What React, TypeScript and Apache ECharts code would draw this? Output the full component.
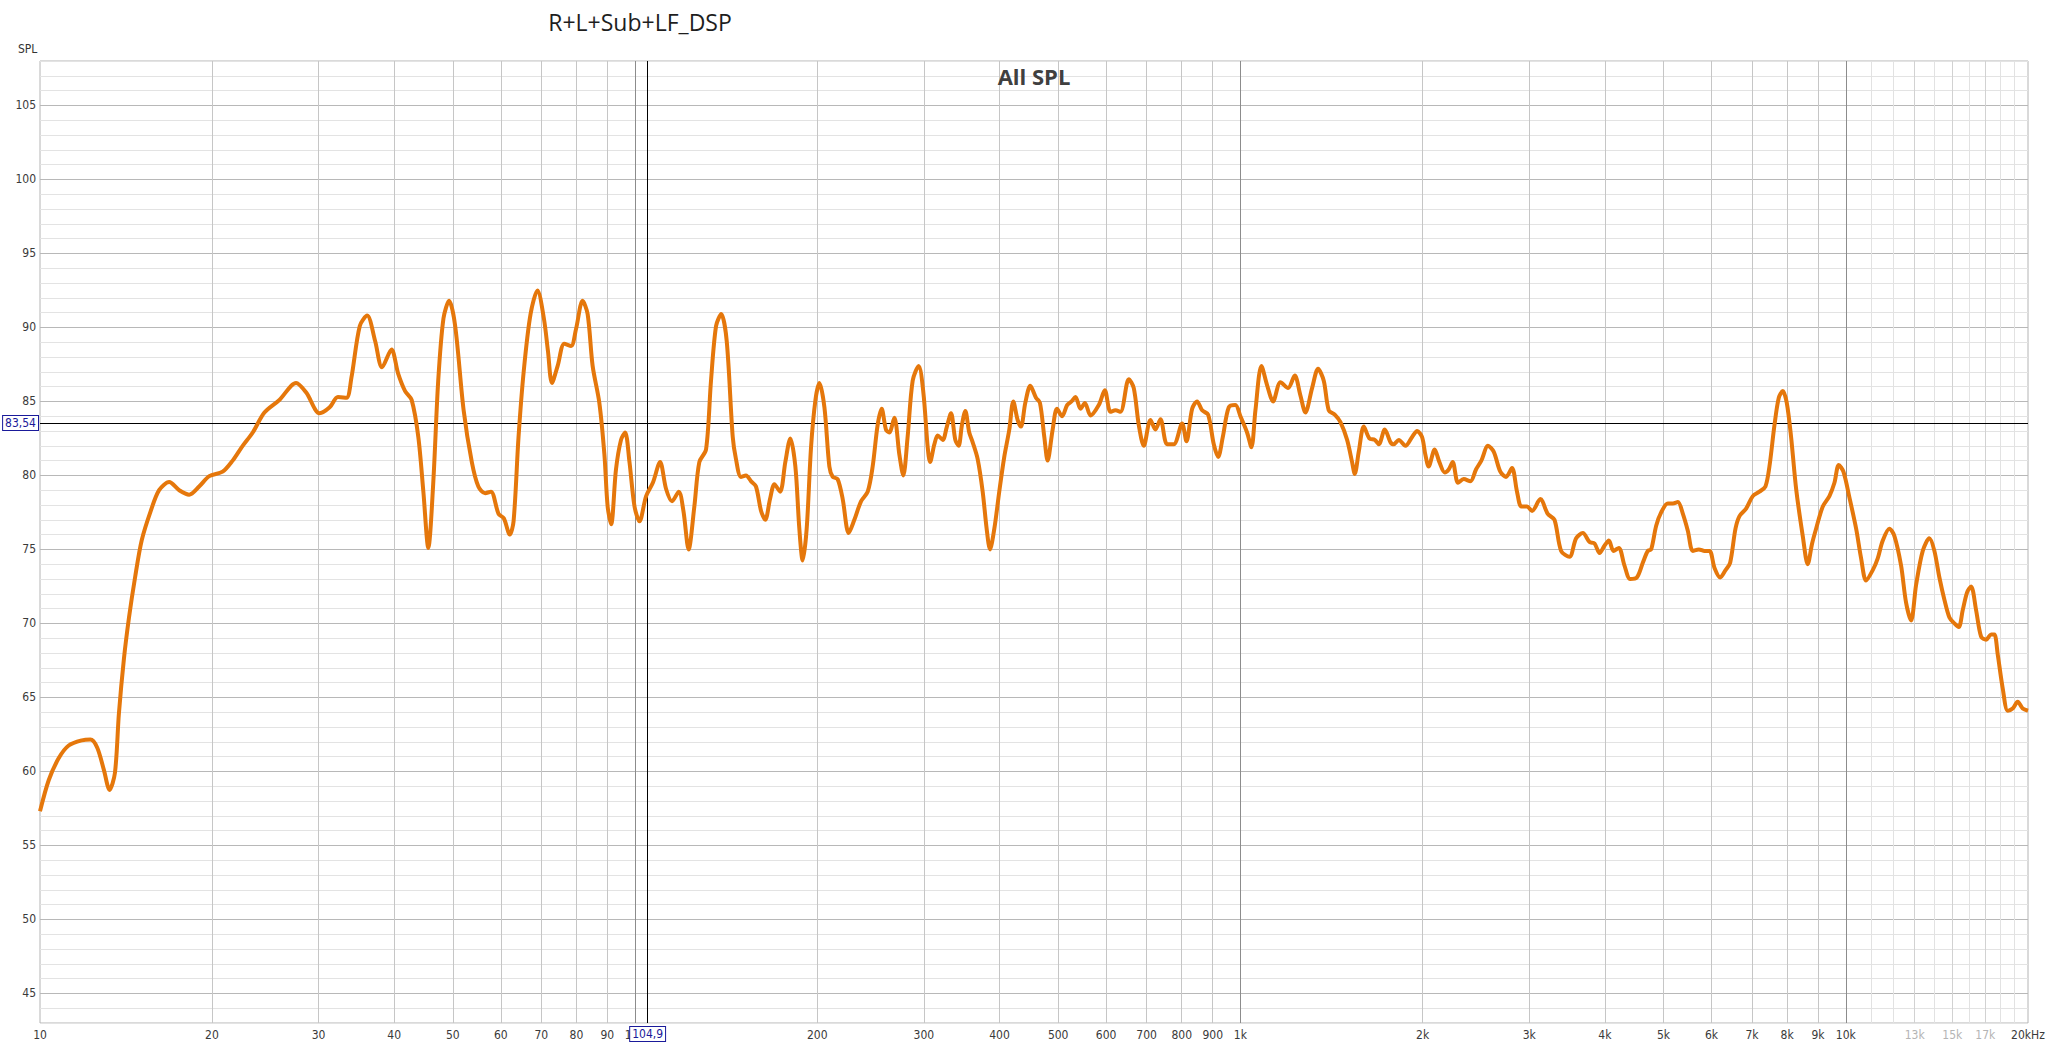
import React, { useEffect, useRef } from "react";
import * as echarts from "echarts";

// ---- Measured response (Hz, dB SPL) ----
const freqHz = [
  10.4, 10.75, 11.17, 11.6, 12.2, 12.6, 12.93, 13.26, 13.55, 13.83, 14.04, 14.31, 14.59, 14.93, 15.31, 15.85, 16.36, 17.0, 17.66, 18.34,
  19.05, 19.8, 20.83, 21.64, 22.48, 23.36, 24.42, 25.85, 27.55, 28.63, 30.12, 31.3, 32.3, 33.37, 34.0, 35.1, 36.1, 37.2, 38.2, 39.6,
  40.6, 41.7, 42.75, 43.85, 44.7, 45.55, 46.4, 47.3, 48.25, 49.3, 50.45, 52.1, 53.75, 55.1, 56.55, 57.8, 59.5, 60.7, 62.1, 63.0,
  64.2, 65.5, 67.2, 69.0, 70.7, 71.8, 72.9, 74.5, 76.4, 78.4, 79.9, 81.9, 83.5, 85.1, 87.3, 89.0, 90.1, 91.3, 93.0, 94.8,
  96.3, 97.9, 99.8, 101.7, 104.3, 107.0, 110.0, 112.5, 115.1, 118.1, 120.2, 122.6, 125.3, 127.7, 131.0, 133.5, 136.1, 138.8, 141.7, 145.0,
  146.8, 149.6, 152.5, 155.5, 158.4, 161.5, 164.1, 167.1, 169.9, 173.6, 177.1, 180.5, 184.0, 186.8, 189.2, 192.1, 195.3, 198.6, 201.6, 205.5,
  209.4, 212.1, 216.1, 220.3, 225.4, 230.3, 236.2, 242.3, 246.9, 251.6, 255.5, 259.7, 263.0, 268.1, 273.3, 277.4, 282.0, 287.5, 294.1, 299.4,
  304.4, 307.1, 312.2, 316.2, 322.3, 327.2, 332.6, 338.1, 342.4, 346.7, 351.2, 356.5, 361.1, 368.1, 375.2, 380.9, 385.8, 392.2, 399.6, 407.3,
  415.2, 421.5, 428.5, 434.0, 441.2, 449.7, 459.5, 466.5, 474.3, 480.3, 489.6, 497.7, 507.6, 517.3, 526, 534, 544.4, 553.5, 565.5, 583.5,
  597.0, 610.0, 621.8, 633.7, 654.1, 666.6, 679.4, 692.4, 710.2, 723.8, 737.8, 756.7, 776.1, 801.1, 814.5, 832.3, 848.1, 864.5, 884.4, 903.7,
  918.8, 935.3, 956.8, 981.1, 1000, 1025.7, 1042.8, 1058.8, 1083.2, 1106.7, 1132.3, 1164.5, 1198.8, 1229.6, 1256.4, 1280.4, 1313.5, 1343.8, 1373, 1399.4,
  1431.7, 1463, 1500.6, 1529.3, 1544.9, 1568.6, 1598.8, 1633.4, 1667.2, 1692.8, 1731.9, 1769.4, 1792, 1826.6, 1873.4, 1921.5, 1958.5, 1995.3, 2020.7, 2046.4,
  2093.6, 2131.6, 2175, 2208.4, 2242.2, 2288.1, 2338.2, 2398.2, 2450.1, 2500.3, 2564.4, 2620.5, 2687.7, 2746.1, 2809.4, 2863.6, 2911.1, 2974.8, 3032.2, 3129.5,
  3219, 3302, 3387, 3496, 3586, 3679, 3774, 3846, 3920, 3994, 4061, 4133, 4218, 4310, 4404, 4517, 4621, 4710, 4770, 4862,
  4955, 5082, 5180, 5280, 5382, 5485, 5590, 5719, 5844, 5956, 6070, 6203, 6330, 6442, 6574, 6675, 6845, 7021, 7201, 7367,
  7480, 7625, 7751, 7870, 7990, 8122, 8279, 8491, 8653, 8798, 8933, 9163, 9397, 9578, 9736, 9911, 10141, 10402, 10601, 10804,
  11081, 11293, 11511, 11806, 12033, 12342, 12578, 12820, 13067, 13402, 13745, 14008, 14278, 14552, 14833, 15119, 15369, 15604, 15865, 16108,
  16416, 16732, 17055, 17378, 17600, 17825, 18168, 18518, 18866, 19230, 19601, 20000,
];
const splDb = [
  57.3, 59.4, 60.9, 61.75, 62.1, 62.15, 61.6, 60.1, 58.75, 59.9, 63.9, 67.6, 70.4, 73.1, 75.6, 77.6, 79.0, 79.55, 79.0, 78.7,
  79.25, 79.95, 80.25, 81.0, 82.0, 82.9, 84.25, 85.1, 86.25, 85.6, 84.2, 84.6, 85.3, 85.25, 86.6, 90.1, 90.8, 89.1, 87.3, 88.5,
  86.9, 85.7, 85.1, 82.6, 78.9, 75.1, 79.4, 86.4, 90.6, 91.8, 90.1, 84.4, 80.9, 79.25, 78.8, 78.9, 77.4, 77.1, 76.0, 76.9,
  82.6, 87.1, 90.9, 92.5, 90.6, 88.4, 86.25, 87.4, 88.9, 88.75, 89.9, 91.8, 90.9, 87.4, 84.9, 81.4, 77.9, 76.7, 80.4, 82.4,
  82.9, 80.9, 77.9, 76.9, 78.6, 79.5, 80.9, 79.1, 78.25, 78.9, 77.6, 75.0, 77.9, 80.9, 81.75, 86.4, 90.1, 90.9, 89.1, 82.6,
  81.1, 79.9, 80.0, 79.6, 79.25, 77.6, 77.0, 78.4, 79.4, 78.9, 80.9, 82.5, 80.6, 76.4, 74.25, 76.4, 81.9, 85.1, 86.25, 84.6,
  80.6, 79.9, 79.75, 78.4, 76.1, 77.0, 78.25, 78.9, 80.6, 83.4, 84.5, 83.1, 82.9, 83.9, 81.4, 80.0, 82.6, 86.4, 87.4, 85.6,
  81.9, 80.9, 82.1, 82.7, 82.4, 83.25, 84.2, 82.4, 82.0, 83.4, 84.35, 82.9, 82.25, 81.1, 78.9, 76.4, 75.0, 76.4, 78.9, 81.25,
  83.1, 85.0, 83.75, 83.3, 84.9, 86.05, 85.25, 84.9, 82.6, 81.0, 83.1, 84.5, 84.0, 84.75, 85.0, 85.3, 84.5, 84.9, 84.05, 84.75,
  85.75, 84.3, 84.4, 84.3, 86.5, 85.9, 83.4, 82.0, 83.75, 83.1, 83.8, 82.1, 82.1, 83.5, 82.3, 84.5, 85.0, 84.4, 84.1, 82.1,
  81.25, 82.6, 84.6, 84.75, 84.0, 82.9, 81.9, 84.4, 87.4, 86.1, 85.0, 86.3, 85.9, 86.75, 85.4, 84.25, 85.9, 87.2, 86.4, 84.4,
  84.1, 83.6, 82.4, 80.9, 80.1, 81.6, 83.3, 82.5, 82.4, 82.1, 83.1, 82.25, 82.1, 82.4, 82.0, 82.6, 83.0, 82.6, 81.4, 80.6,
  81.75, 80.9, 80.2, 80.4, 80.9, 79.5, 79.75, 79.6, 80.4, 81.0, 82.0, 81.6, 80.25, 79.9, 80.5, 78.9, 77.9, 77.9, 77.6, 78.4,
  77.4, 77.0, 74.9, 74.5, 75.75, 76.1, 75.5, 75.4, 74.75, 75.25, 75.6, 74.9, 75.1, 73.9, 73.0, 73.1, 74.1, 74.9, 75.0, 76.6,
  77.5, 78.1, 78.1, 78.2, 77.4, 76.25, 74.9, 75.0, 74.9, 74.9, 73.75, 73.1, 73.6, 74.1, 76.4, 77.25, 77.75, 78.6, 78.9, 79.25,
  80.6, 83.4, 85.25, 85.7, 84.9, 82.6, 79.1, 75.9, 74.0, 75.4, 76.4, 77.9, 78.6, 79.5, 80.7, 80.25, 78.5, 76.4, 74.4, 72.9,
  73.6, 74.4, 75.6, 76.4, 75.9, 73.9, 71.4, 70.2, 72.6, 74.9, 75.75, 74.9, 73.1, 71.6, 70.4, 70.0, 69.75, 70.9, 72.1, 72.5,
  70.9, 69.1, 68.9, 69.25, 69.25, 67.9, 65.6, 64.1, 64.25, 64.7, 64.25, 64.1,
];

// ---- Axis definitions ----
const X_MIN = 10.4;
const X_MAX = 20000;
const Y_MIN = 43;
const Y_MAX = 108;
const gridFreqs = [20, 30, 40, 50, 60, 70, 80, 90, 200, 300, 400, 500, 600, 700, 800, 900, 2000, 3000, 4000, 5000, 6000, 7000, 8000, 9000];
const decadeFreqs = [100, 1000, 10000];
const hfFreqs = [11000, 12000, 13000, 14000, 15000, 16000, 17000, 18000, 19000];
const xLabelValues = [10.4, 20, 30, 40, 50, 60, 70, 80, 90, 100, 200, 300, 400, 500, 600, 700, 800, 900, 1000, 2000, 3000, 4000, 5000, 6000, 7000, 8000, 9000, 10000, 13000, 15000, 17000, 20000];
const xLabelTexts = ["10", "20", "30", "40", "50", "60", "70", "80", "90", "100", "200", "300", "400", "500", "600", "700", "800", "900", "1k", "2k", "3k", "4k", "5k", "6k", "7k", "8k", "9k", "10k", "13k", "15k", "17k", "20kHz"];
const lightLabelTexts = ["13k", "15k", "17k"];
const cursorFreq = 104.9;
const cursorSpl = 83.54;
const cursorFreqText = "104,9";
const cursorSplText = "83,54";

const LABEL_FONT = '"Liberation Sans Narrow", "DejaVu Sans Condensed", "Noto Sans", sans-serif';

export default function App() {
  const ref = useRef<HTMLDivElement>(null);

  useEffect(() => {
    if (!ref.current) return;
    const chart = echarts.init(ref.current, undefined, { renderer: "svg" });

    const curve = freqHz.map((f, i) => [f, splDb[i]]);

    const gridData: any[] = [
      ...gridFreqs.map((f) => ({ xAxis: f, lineStyle: { color: "#c6c6c6" } })),
      ...hfFreqs.map((f) => ({ xAxis: f, lineStyle: { color: f === 13000 || f === 15000 || f === 17000 ? "#d2d2d2" : "#e2e2e2" } })),
      ...decadeFreqs.map((f) => ({ xAxis: f, lineStyle: { color: "#8c8c8c" } })),
    ];

    const labelData: any[] = xLabelValues.map((v, i) => ({
      xAxis: v,
      lineStyle: { color: "rgba(255,255,255,0)", width: 0 },
      label: {
        show: true,
        formatter: xLabelTexts[i],
        color: lightLabelTexts.includes(xLabelTexts[i]) ? "#b4b4b4" : "#3a3a3a",
      },
    }));

    const minorC = "#e3e3e3";
    const majorC = "#b8b8b8";

    const markBase = {
      silent: true,
      symbol: ["none", "none"],
      animation: false,
      emphasis: { disabled: true },
    };

    chart.setOption({
      animation: false,
      backgroundColor: "#ffffff",
      grid: {
        left: 40,
        right: 20,
        top: 61,
        bottom: 25,
        show: true,
        borderColor: "#b4b4b4",
        borderWidth: 1,
        backgroundColor: "#ffffff",
      },
      xAxis: {
        type: "log",
        logBase: 10,
        min: X_MIN,
        max: X_MAX,
        axisLine: { show: false },
        axisTick: { show: false },
        axisLabel: { show: false },
        splitLine: { show: false },
      },
      yAxis: {
        type: "value",
        min: Y_MIN,
        max: Y_MAX,
        interval: 1,
        axisLine: { show: false },
        axisTick: { show: false },
        axisLabel: {
          margin: 4,
          fontSize: 12,
          fontFamily: LABEL_FONT,
          color: "#3a3a3a",
          formatter: (v: number) => (Math.round(v) % 5 === 0 ? String(Math.round(v)) : ""),
        },
        splitLine: {
          show: true,
          lineStyle: { width: 1, color: [minorC, minorC, majorC, minorC, minorC] },
        },
      },
      graphic: [
        {
          type: "text",
          left: 18,
          top: 43,
          style: { text: "SPL", fontSize: 12, fontFamily: LABEL_FONT, fill: "#333" },
        },
        {
          type: "text",
          x: 640,
          y: 22,
          style: {
            text: "R+L+Sub+LF_DSP",
            fontSize: 23,
            fontFamily: '"Open Sans", "Noto Sans", sans-serif',
            fill: "#1e1e1e",
            align: "center",
            verticalAlign: "middle",
          },
        },
        {
          type: "text",
          x: 1034,
          y: 76,
          z: 10,
          style: {
            text: "All SPL",
            fontSize: 22,
            fontWeight: "bold",
            fontFamily: '"Open Sans", "Noto Sans", sans-serif',
            fill: "#404040",
            align: "center",
            verticalAlign: "middle",
          },
        },
      ],
      series: [
        {
          type: "line",
          name: "All SPL",
          data: curve,
          z: 3,
          smooth: 0.3,
          showSymbol: false,
          symbol: "none",
          lineStyle: { color: "#e5770b", width: 4 },
          silent: true,
          markLine: {
            ...markBase,
            z: 1,
            lineStyle: { type: "solid", width: 1 },
            label: { show: false },
            data: gridData,
          },
        },
        {
          type: "line",
          name: "labels",
          data: [],
          z: 1,
          silent: true,
          markLine: {
            ...markBase,
            z: 1,
            lineStyle: { type: "solid", width: 0 },
            label: {
              show: true,
              position: "start",
              distance: 6,
              fontSize: 12,
              fontFamily: LABEL_FONT,
              color: "#3a3a3a",
            },
            data: labelData,
          },
        },
        {
          type: "line",
          name: "cursor",
          data: [],
          z: 2,
          silent: true,
          markLine: {
            ...markBase,
            z: 2,
            lineStyle: { type: "solid", width: 1, color: "#000000" },
            label: {
              show: true,
              position: "start",
              fontSize: 12,
              fontFamily: LABEL_FONT,
              color: "#1a1a9a",
              backgroundColor: "#ffffff",
              borderColor: "#1a1a9a",
              borderWidth: 1,
              padding: [1, 2, 1, 2],
            },
            data: [
              { xAxis: cursorFreq, label: { formatter: cursorFreqText, distance: 4 } },
              { yAxis: cursorSpl, label: { formatter: cursorSplText, distance: 2 } },
            ],
          },
        },
      ],
    });

    return () => chart.dispose();
  }, []);

  return (
    <div
      ref={ref}
      style={{ position: "fixed", left: 0, top: 0, width: "2048px", height: "1048px", background: "#fff" }}
    />
  );
}
